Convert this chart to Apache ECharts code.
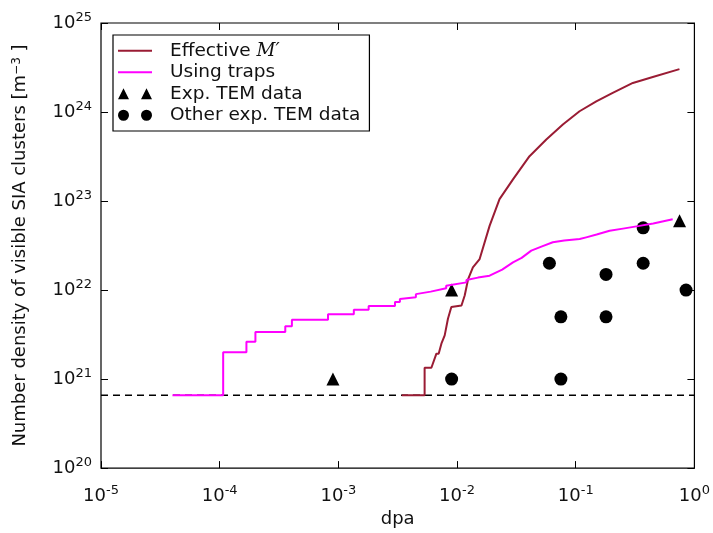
<!DOCTYPE html>
<html>
<head>
<meta charset="utf-8">
<script src="https://cdn.jsdelivr.net/npm/echarts@6/dist/echarts.min.js"></script>
<style>
html,body{margin:0;padding:0;background:#fff;}
#chart{width:713px;height:533px;}
</style>
</head>
<body>
<div id="chart"></div>
<script>
// ---- data ----
const xTickExponents = [-5, -4, -3, -2, -1, 0];
const yTickExponents = [20, 21, 22, 23, 24, 25];

const seriesNames = ['Effective M\u2032', 'Using traps', 'Exp. TEM data', 'Other exp. TEM data'];

// Effective M' : [dpa, density]
const effectiveM = [
  [3.42e-3, 6.6e20], [5.33e-3, 6.6e20], [5.33e-3, 1.34e21], [6.08e-3, 1.34e21],
  [6.7e-3, 1.93e21], [7.0e-3, 1.93e21], [7.38e-3, 2.5e21], [7.87e-3, 3.1e21], [8.38e-3, 4.76e21],
  [8.95e-3, 6.44e21], [1.09e-2, 6.71e21], [1.16e-2, 8.69e21], [1.24e-2, 1.33e22],
  [1.36e-2, 1.8e22], [1.55e-2, 2.23e22], [1.88e-2, 5.26e22], [2.28e-2, 1.05e23],
  [2.96e-2, 1.75e23], [4.08e-2, 3.19e23], [5.65e-2, 4.91e23], [7.79e-2, 7.23e23],
  [0.1077, 1.02e24], [0.149, 1.32e24], [0.205, 1.64e24], [0.303, 2.12e24],
  [0.446, 2.47e24], [0.748, 3.03e24]
];

// Using traps : [dpa, density]
const usingTraps = [
  [4e-5, 6.6e20], [1.07e-4, 6.6e20], [1.07e-4, 2.0e21], [1.68e-4, 2.0e21],
  [1.68e-4, 2.63e21], [2.0e-4, 2.63e21], [2.0e-4, 3.39e21], [3.57e-4, 3.39e21],
  [3.57e-4, 3.93e21], [4.06e-4, 3.93e21], [4.06e-4, 4.64e21], [8.18e-4, 4.64e21],
  [8.18e-4, 5.35e21], [1.35e-3, 5.35e21], [1.35e-3, 6.01e21], [1.8e-3, 6.01e21],
  [1.8e-3, 6.61e21], [3.0e-3, 6.61e21], [3.0e-3, 7.33e21], [3.3e-3, 7.33e21],
  [3.3e-3, 7.95e21], [4.5e-3, 8.3e21], [4.5e-3, 9.0e21], [6.0e-3, 9.6e21],
  [8.1e-3, 1.05e22], [8.1e-3, 1.12e22], [1.2e-2, 1.22e22], [1.2e-2, 1.3e22],
  [1.5e-2, 1.38e22], [1.88e-2, 1.45e22], [1.88e-2, 1.52e22], [2.4e-2, 1.7e22],
  [2.96e-2, 2.05e22], [3.5e-2, 2.3e22], [4.22e-2, 2.77e22], [5.2e-2, 3.1e22],
  [6.41e-2, 3.44e22], [8.0e-2, 3.6e22], [0.108, 3.74e22], [0.1225, 3.91e22],
  [0.15, 4.2e22], [0.193, 4.63e22], [0.25, 4.9e22], [0.344, 5.26e22],
  [0.45, 5.6e22], [0.656, 6.25e22]
];

// Exp. TEM data (triangles)
const expTEM = [
  [9e-4, 1e21], [9e-3, 1e22], [0.75, 6e22]
];

// Other exp. TEM data (circles)
const otherExpTEM = [
  [9e-3, 1e21], [0.06, 2e22], [0.075, 5e21], [0.075, 1e21], [0.18, 1.5e22],
  [0.18, 5e21], [0.37, 2e22], [0.37, 5e22], [0.85, 1e22]
];

// Dashed reference level
const dashedLevel = 6.6e20;
const xRange = [1e-5, 1];
const yRange = [1e20, 1e25];

// ---- chart ----
const FONT = 'DejaVu Sans';
const TXT = '#111';
const expOf = v => Math.round(Math.log10(v));
const powRich = {
  a: { fontSize: 18, fontFamily: FONT, color: TXT, lineHeight: 24 },
  b: { fontSize: 13, fontFamily: FONT, color: TXT, verticalAlign: 'top', lineHeight: 14 }
};
const powFmt = v => '{a|10}{b|' + expOf(v) + '}';

const chart = echarts.init(document.getElementById('chart'), null, { renderer: 'canvas' });

const option = {
  animation: false,
  backgroundColor: '#fff',
  grid: { left: 101, right: 18, top: 23, bottom: 63, show: true, borderColor: '#000', borderWidth: 1.2, backgroundColor: '#fff' },
  legend: {
    orient: 'vertical',
    left: 113,
    top: 35,
    padding: [5, 9, 5, 5],
    itemGap: 0,
    itemWidth: 34,
    itemHeight: 12,
    borderColor: '#000',
    borderWidth: 1.2,
    backgroundColor: '#fff',
    textStyle: { fontSize: 18.5, fontFamily: FONT, color: TXT, lineHeight: 21.5, padding: [0, 0, 0, 13],
      rich: { m: { fontSize: 18.5, fontFamily: 'DejaVu Serif', fontStyle: 'italic', color: TXT, lineHeight: 21.5 } } },
    formatter: name => name === seriesNames[0] ? 'Effective {m|M\u2032}' : name,
    data: [
      { name: seriesNames[0], icon: 'path://M0,5 L34,5 L34,7 L0,7 Z' },
      { name: seriesNames[1], icon: 'path://M0,5 L34,5 L34,7 L0,7 Z' },
      { name: seriesNames[2], icon: 'path://M0,12 L5.5,1 L11,12 Z M23,12 L28.5,1 L34,12 Z' },
      { name: seriesNames[3], icon: 'path://M0,6.5 A5.5,5.5 0 1 1 11,6.5 A5.5,5.5 0 1 1 0,6.5 Z M23,6.5 A5.5,5.5 0 1 1 34,6.5 A5.5,5.5 0 1 1 23,6.5 Z' }
    ]
  },
  xAxis: [
    {
      type: 'log', logBase: 10, min: xRange[0], max: xRange[1],
      name: 'dpa', nameLocation: 'middle', nameGap: 38,
      nameTextStyle: { fontSize: 18, fontFamily: FONT, color: TXT },
      axisLine: { show: false },
      axisTick: { inside: true, length: 7, lineStyle: { color: '#000' } },
      axisLabel: { margin: 16, formatter: powFmt, rich: powRich },
      splitLine: { show: false }
    },
    {
      type: 'log', logBase: 10, min: xRange[0], max: xRange[1], position: 'top',
      axisLine: { show: false },
      axisTick: { inside: true, length: 7, lineStyle: { color: '#000' } },
      axisLabel: { show: false }, splitLine: { show: false }
    }
  ],
  yAxis: [
    {
      type: 'log', logBase: 10, min: yRange[0], max: yRange[1],
      name: 'Number density of visible SIA clusters [m{s|\u22123} ]',
      nameLocation: 'middle', nameGap: 72,
      nameTextStyle: { fontSize: 18, fontFamily: FONT, color: TXT,
        rich: { s: { fontSize: 12, fontFamily: FONT, color: TXT, verticalAlign: 'top', lineHeight: 14 } } },
      axisLine: { show: false },
      axisTick: { inside: true, length: 7, lineStyle: { color: '#000' } },
      axisLabel: { margin: 9, formatter: powFmt, rich: powRich },
      splitLine: { show: false }
    },
    {
      type: 'log', logBase: 10, min: yRange[0], max: yRange[1], position: 'right',
      axisLine: { show: false },
      axisTick: { inside: true, length: 7, lineStyle: { color: '#000' } },
      axisLabel: { show: false }, splitLine: { show: false }
    }
  ],
  series: [
    {
      name: 'dashed', type: 'line', xAxisIndex: 0, yAxisIndex: 0,
      data: [[xRange[0], dashedLevel], [xRange[1], dashedLevel]],
      showSymbol: false, silent: true,
      lineStyle: { color: '#000', width: 1.5, type: [7, 5] }
    },
    {
      name: seriesNames[0], type: 'line', data: effectiveM, showSymbol: false,
      color: '#9a1c34', lineStyle: { color: '#9a1c34', width: 2 }
    },
    {
      name: seriesNames[1], type: 'line', data: usingTraps, showSymbol: false,
      color: '#ff00ff', lineStyle: { color: '#ff00ff', width: 2 }
    },
    {
      name: seriesNames[2], type: 'scatter', data: expTEM, symbol: 'triangle', symbolSize: 13,
      color: '#000', itemStyle: { color: '#000', opacity: 1 }
    },
    {
      name: seriesNames[3], type: 'scatter', data: otherExpTEM, symbol: 'circle', symbolSize: 13,
      color: '#000', itemStyle: { color: '#000', opacity: 1 }
    }
  ]
};
chart.setOption(option);
</script>
</body>
</html>
